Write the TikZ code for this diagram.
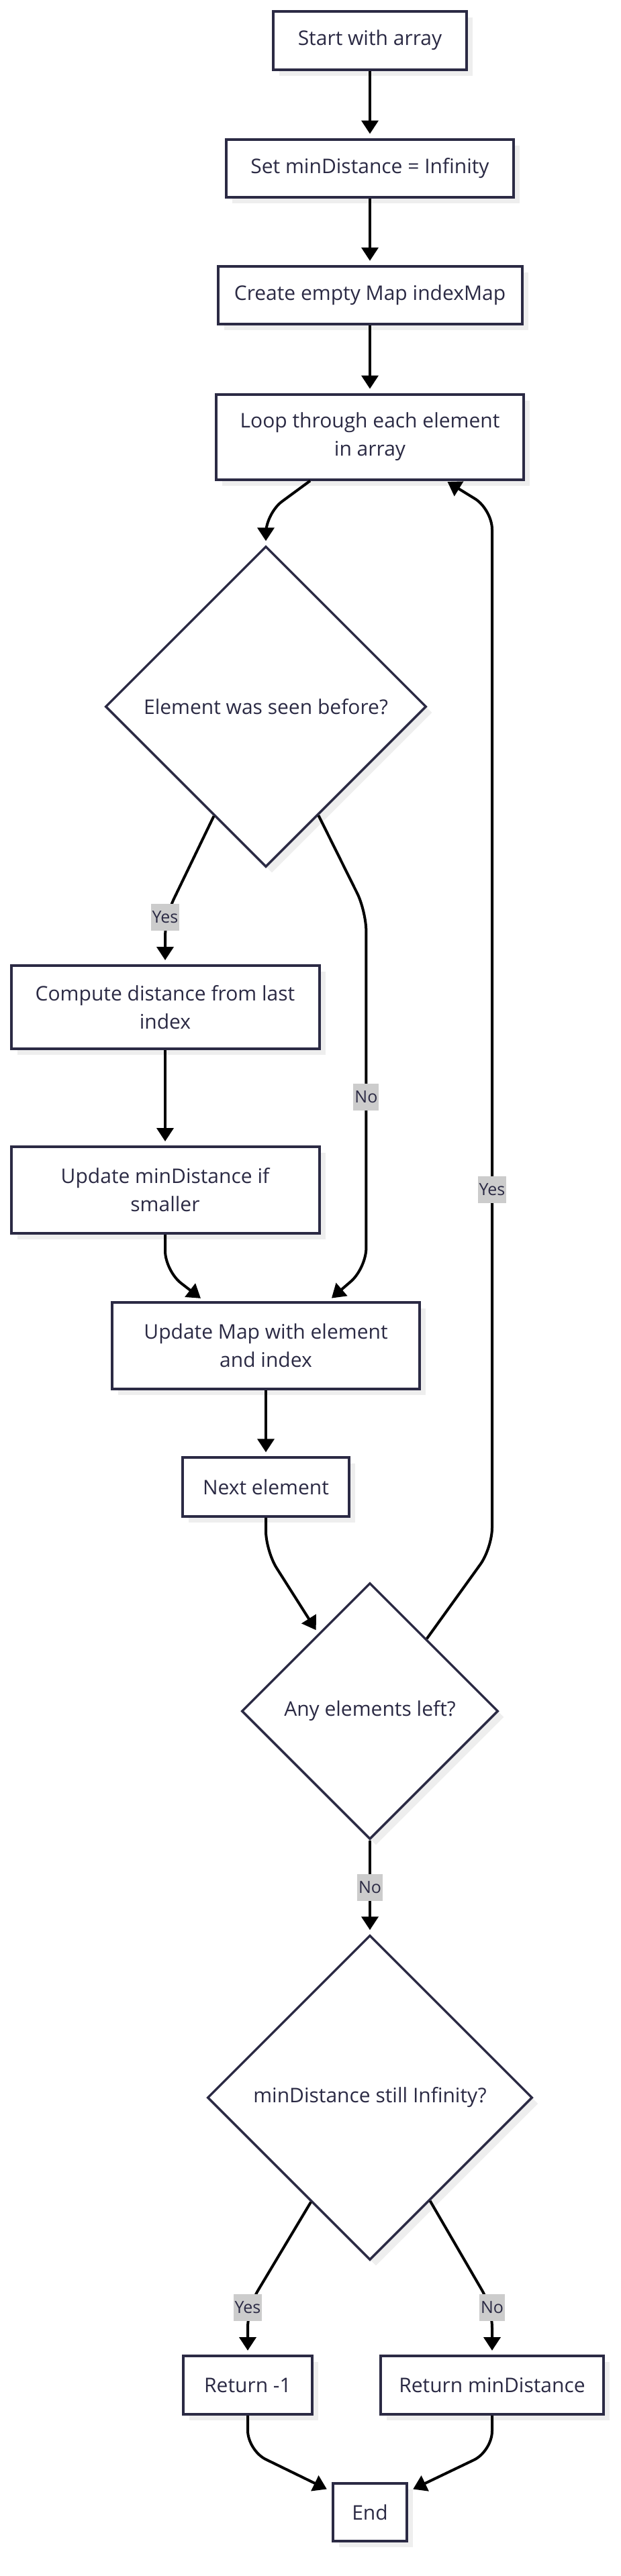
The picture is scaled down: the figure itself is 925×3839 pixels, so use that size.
\documentclass[tikz,border=0pt]{standalone}
\usepackage{fontspec}
\setmainfont{Open Sans}
\usepackage{tikz}
\usetikzlibrary{shapes.geometric}
\usetikzlibrary{arrows.meta}
\usetikzlibrary{calc}
\usetikzlibrary{shadows}
\usepackage{xcolor}
\definecolor{ink}{HTML}{2B2A44}
\definecolor{shade}{HTML}{EEEEEE}
\definecolor{tagfill}{HTML}{CCCCCC}
\tikzset{
  box/.style={draw=ink, line width=4pt, fill=white, text=ink, align=center, inner sep=0pt,
    font=\fontsize{30}{42}\selectfont,
    drop shadow={shadow xshift=9pt, shadow yshift=-9pt, fill=shade, opacity=1}},
  decision/.style={box, diamond, aspect=1, line width=3.5pt},
  flow/.style={draw=black, line width=4pt, -{Triangle[length=20pt,width=25pt]},
    shorten >=6pt, rounded corners=30pt},
  tag/.style={sharp corners, draw=none, fill=tagfill, text=ink, font=\fontsize{25}{30}\selectfont,
    inner xsep=2pt, inner ysep=0pt, minimum height=40pt}
}
\begin{document}
\begin{tikzpicture}[x=1pt,y=-1pt]
        \useasboundingbox (0,0) rectangle (925,3839);
        \node[box, minimum width=288.5pt, minimum height=87pt] (start) at (551,60) {Start with array};
        \node[box, minimum width=428.5pt, minimum height=86pt] (setmin) at (551,250.5) {Set minDistance = Infinity};
        \node[box, minimum width=453pt, minimum height=86.5pt] (mkmap) at (551,440) {Create empty Map indexMap};
        \node[box, minimum width=458pt, minimum height=127pt] (loop) at (551,651) {Loop through each element\\in array};
        \node[decision, minimum width=478pt, minimum height=478pt] (seen) at (396,1053) {Element was seen before?};
        \node[box, minimum width=459pt, minimum height=124pt] (compute) at (246,1501) {Compute distance from last\\index};
        \node[box, minimum width=459pt, minimum height=129pt] (updmin) at (246,1773.5) {Update minDistance if\\smaller};
        \node[box, minimum width=458pt, minimum height=129pt] (updmap) at (396,2005) {Update Map with element\\and index};
        \node[box, minimum width=248pt, minimum height=87.5pt] (next) at (396,2216) {Next element};
        \node[decision, minimum width=382pt, minimum height=382pt] (anyleft) at (551,2550) {Any elements left?};
        \node[decision, minimum width=484pt, minimum height=484pt] (stillinf) at (551,3126) {minDistance still Infinity?};
        \node[box, minimum width=192pt, minimum height=87pt] (retneg) at (369,3554.5) {Return -1};
        \node[box, minimum width=332pt, minimum height=87pt] (retmin) at (733,3554.5) {Return minDistance};
        \node[box, minimum width=110pt, minimum height=86pt] (finish) at (551,3744) {End};

        \draw[flow] (start.south) -- (setmin.north);
        \draw[flow] (setmin.south) -- (mkmap.north);
        \draw[flow] (mkmap.south) -- (loop.north);
        \draw[flow] ([xshift=-89pt]loop.south) -- (396,765) -- (seen.north);
        \draw[flow] ($(seen.west)!0.678!(seen.south)$) -- (246,1366.5) node[tag] {Yes} -- (compute.north);
        \draw[flow] ($(seen.south)!0.326!(seen.east)$) -- (545.4,1358)
          -- node[tag, pos=0.52] {No} (545.4,1890) -- ([xshift=93.4pt]updmap.north);
        \draw[flow] (compute.south) -- (updmin.north);
        \draw[flow] (updmin.south) -- (246,1894) -- ([xshift=-92.3pt]updmap.north);
        \draw[flow] (updmap.south) -- (next.north);
        \draw[flow] (next.south) -- (396,2311.5) -- ($(anyleft.west)!0.6!(anyleft.north)$);
        \draw[flow, shorten >=3pt] ($(anyleft.north)!0.44!(anyleft.east)$) -- (733,2307)
          -- node[tag, pos=0.345] {Yes} (733,759) -- ([xshift=113pt]loop.south);
        \draw[flow] (anyleft.south) -- node[tag, pos=0.5] {No} (stillinf.north);
        \draw[flow] ($(stillinf.west)!0.639!(stillinf.south)$) -- (369,3439) node[tag] {Yes} -- (retneg.north);
        \draw[flow] ($(stillinf.south)!0.368!(stillinf.east)$) -- (733,3439) node[tag] {No} -- (retmin.north);
        \draw[flow, shorten >=8pt] (retneg.south) -- (369,3652) -- ([yshift=-14pt]finish.north west);
        \draw[flow, shorten >=8pt] (retmin.south) -- (733,3653) -- ([yshift=-14pt]finish.north east);
      \end{tikzpicture}
\end{document}
